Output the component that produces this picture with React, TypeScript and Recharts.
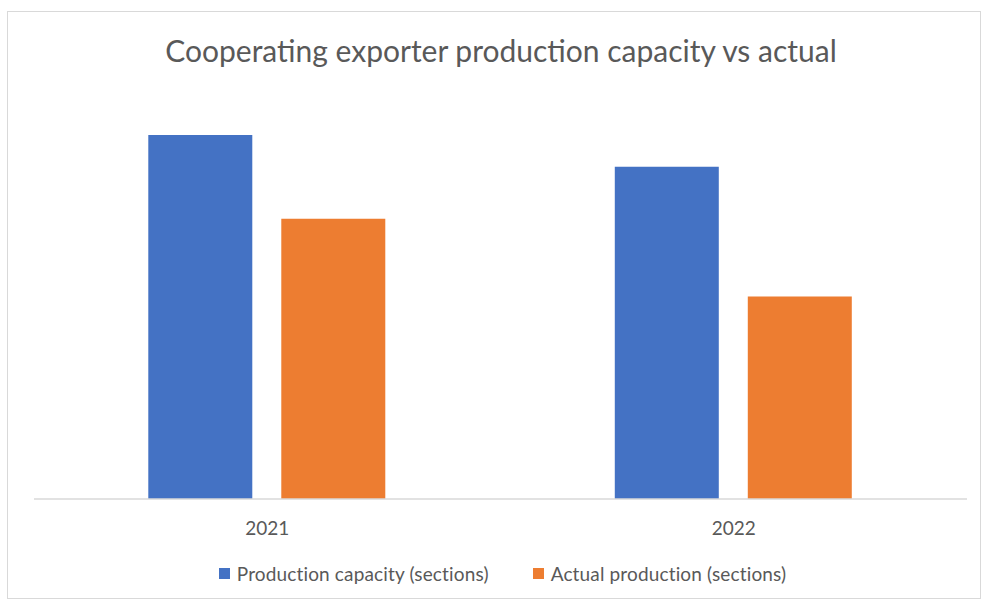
import React from 'react';
import { Bar, BarChart, Legend, XAxis, YAxis } from 'recharts';

const years = ['2021', '2022'];
const capacity = [365, 333];
const actual = [281, 203];

const seriesNames = ['Production capacity (sections)', 'Actual production (sections)'];
const seriesColors = ['#4472C4', '#ED7D31'];

const data = years.map((year, i) => ({
  year,
  capacity: capacity[i],
  actual: actual[i],
}));

const FONT = 'Lato, "Open Sans", sans-serif';
const TEXT = '#595959';

function LegendBox() {
  return (
    <div
      style={{
        display: 'flex',
        justifyContent: 'center',
        alignItems: 'center',
        height: 34,
        paddingLeft: 4,
        fontFamily: FONT,
        fontSize: 19,
        color: TEXT,
      }}
    >
      {seriesNames.map((name, i) => (
        <div key={name} style={{ display: 'flex', alignItems: 'center', marginRight: i === 0 ? 44 : 0 }}>
          <span style={{ width: 11, height: 11, background: seriesColors[i], marginRight: 7, display: 'inline-block' }} />
          <span style={{ letterSpacing: 0.15 }}>{name}</span>
        </div>
      ))}
    </div>
  );
}

export default function App() {
  return (
    <div
      style={{
        position: 'absolute',
        left: 7,
        top: 11,
        width: 972,
        height: 586,
        border: '1px solid #d9d9d9',
        background: '#fff',
      }}
    >
      <div
        style={{
          position: 'absolute',
          left: 0,
          width: 986,
          top: 20,
          textAlign: 'center',
          fontFamily: FONT,
          fontSize: 30,
          color: TEXT,
        }}
      >
        Cooperating exporter production capacity vs actual
      </div>
      <BarChart
        width={970}
        height={584}
        data={data}
        margin={{ top: 88, right: 11, left: 26, bottom: 0 }}
        barCategoryGap="24.5%"
        barGap={29}
      >
        <XAxis
          dataKey="year"
          axisLine={{ stroke: '#d9d9d9', strokeWidth: 1.5 }}
          tickLine={false}
          tickMargin={17}
          height={57}
          tick={{ fill: TEXT, fontSize: 19, fontFamily: FONT }}
        />
        <YAxis hide domain={[0, 400]} />
        <Legend verticalAlign="bottom" wrapperStyle={{ height: 40 }} content={() => <LegendBox />} />
        <Bar dataKey="capacity" name={seriesNames[0]} fill={seriesColors[0]} isAnimationActive={false} />
        <Bar dataKey="actual" name={seriesNames[1]} fill={seriesColors[1]} isAnimationActive={false} />
      </BarChart>
    </div>
  );
}
